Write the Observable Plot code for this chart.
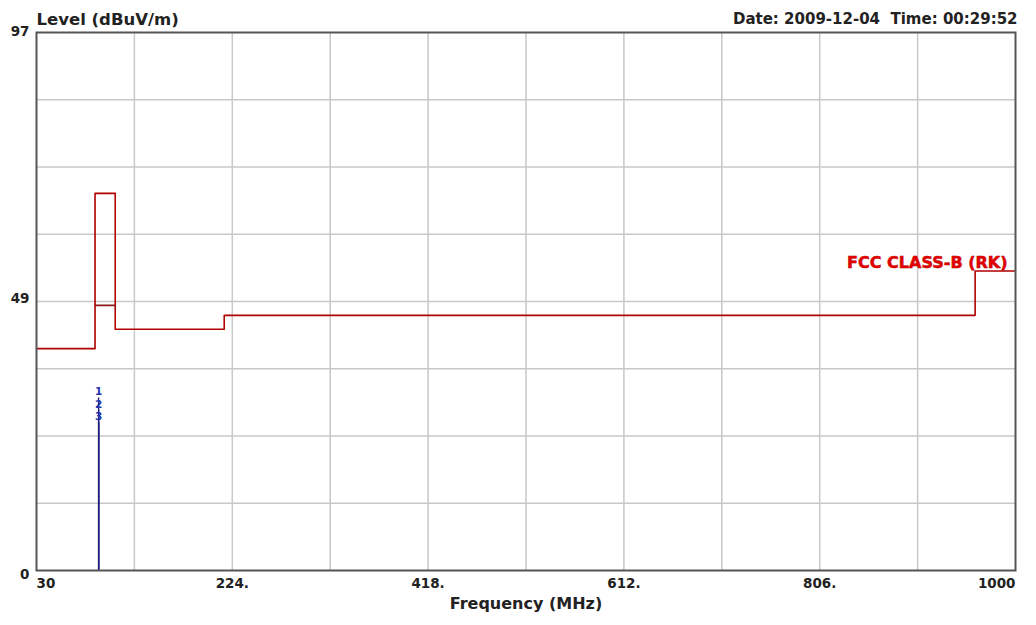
<!DOCTYPE html>
<html>
<head>
<meta charset="utf-8">
<script src="https://cdn.jsdelivr.net/npm/d3@7"></script>
<script src="https://cdn.jsdelivr.net/npm/@observablehq/plot@0.6"></script>
<style>
  html, body { margin: 0; padding: 0; background: #fff; }
  svg { font-family: "DejaVu Sans", sans-serif; font-weight: bold; }
</style>
</head>
<body>
<div id="chart"></div>
<script>
// Limit line (FCC Class B, step function)
const limitFreq  = [30, 88, 88, 108, 108, 216, 216, 960, 960, 1000];
const limitLevel = [40, 40, 68, 68, 43.5, 43.5, 46, 46, 54, 54];
// Secondary level inside the 88-108 MHz window
const bandFreq  = [88, 108];
const bandLevel = [47.8, 47.8];
// Measurement markers
const markerIds   = ["1", "2", "3"];
const markerFreq  = [91.5, 91.6, 91.7];
const markerLevel = [31.1, 28.9, 26.7];
// Axes
const xTickValues = [30, 224, 418, 612, 806, 1000];
const xTickLabels = ["30", "224.", "418.", "612.", "806.", "1000"];
const yTickValues = [0, 49, 97];
const yTickLabels = ["0", "49", "97"];
const yTickShift  = [4, 0, -1];
const xGrid = [127, 224, 321, 418, 515, 612, 709, 806, 903];
const yGrid = [12.125, 24.25, 36.375, 48.5, 60.625, 72.75, 84.875];
const limitName = "FCC CLASS-B (RK)";
const yTitle = "Level (dBuV/m)";
const xTitle = "Frequency (MHz)";
const stamp = "Date: 2009-12-04  Time: 00:29:52";

const limit = limitFreq.map((f, i) => ({f, v: limitLevel[i]}));
const band = bandFreq.map((f, i) => ({f, v: bandLevel[i]}));
const markers = markerIds.map((id, i) => ({id, f: markerFreq[i], v: markerLevel[i]}));
const xt = xTickValues.map((v, i) => ({v, t: xTickLabels[i]}));
const yt = yTickValues.map((v, i) => ({v, t: yTickLabels[i], s: yTickShift[i]}));

const chart = Plot.plot({
  width: 1036,
  height: 625,
  marginLeft: 36,
  marginRight: 21,
  marginTop: 32,
  marginBottom: 55,
  x: {domain: [30, 1000], axis: null},
  y: {domain: [0, 97], axis: null},
  marks: [
    Plot.ruleX(xGrid, {stroke: "#c8c8c8", strokeWidth: 1.5}),
    Plot.ruleY(yGrid, {stroke: "#c8c8c8", strokeWidth: 1.5}),
    Plot.line(limit, {x: "f", y: "v", stroke: "#b00000", strokeWidth: 1.6}),
    Plot.line(band, {x: "f", y: "v", stroke: "#8a1a1a", strokeWidth: 1.6}),
    Plot.ruleX(markers, {x: "f", y1: 0, y2: "v", stroke: "#1c1c80", strokeWidth: 1.4}),
    Plot.text(markers, {x: "f", y: "v", text: "id", dy: -6, fill: "#2233aa", fontSize: 10.5, fontWeight: "bold"}),
    Plot.text([limitName], {x: 1000, y: 54, text: d => d, textAnchor: "end", dx: -8, dy: -8, fill: "#e00000", stroke: "#a00000", strokeWidth: 0.5, fontSize: 16, fontWeight: "bold", letterSpacing: "-0.4px"}),
    Plot.frame({stroke: "#555", strokeWidth: 2}),
    // x tick labels
    Plot.text(xt.slice(0, 1), {x: "v", text: "t", frameAnchor: "bottom", dy: 17, textAnchor: "start", fontSize: 13.5, fill: "#222"}),
    Plot.text(xt.slice(1, -1), {x: "v", text: "t", frameAnchor: "bottom", dy: 17, textAnchor: "middle", fontSize: 13.5, fill: "#222"}),
    Plot.text(xt.slice(-1), {x: "v", text: "t", frameAnchor: "bottom", dy: 17, textAnchor: "end", fontSize: 13.5, fill: "#222"}),
    // y tick labels
    ...yt.map(d => Plot.text([d], {y: "v", text: "t", frameAnchor: "left", dx: -7, dy: d.s, textAnchor: "end", fontSize: 13.5, fill: "#222"})),
    // titles
    Plot.text([xTitle], {text: d => d, frameAnchor: "bottom", dy: 38, fontSize: 16, fill: "#222"}),
    Plot.text([yTitle], {text: d => d, frameAnchor: "top-left", dy: -19, textAnchor: "start", fontSize: 16.5, fill: "#222"}),
    Plot.text([stamp], {text: d => d, frameAnchor: "top-right", dx: 2, dy: -19, textAnchor: "end", fontSize: 15, fill: "#222"})
  ]
});
document.getElementById("chart").appendChild(chart);
</script>
</body>
</html>
